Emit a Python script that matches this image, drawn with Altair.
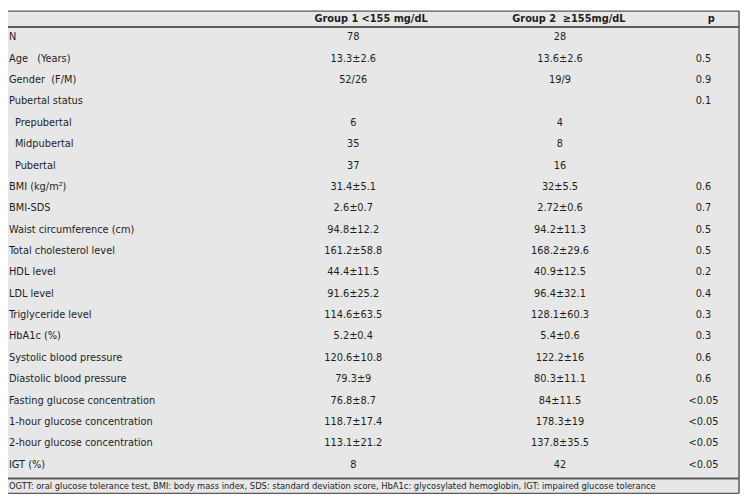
import altair as alt
import pandas as pd

NB = "\u00a0"
labels = [
    "N", "Age" + NB * 3 + "(Years)", "Gender" + NB + " (F/M)", "Pubertal status",
    "Prepubertal", "Midpubertal", "Pubertal",
    "BMI (kg/m\u00b2)", "BMI-SDS", "Waist circumference (cm)", "Total cholesterol level",
    "HDL level", "LDL level", "Triglyceride level", "HbA1c (%)",
    "Systolic blood pressure", "Diastolic blood pressure",
    "Fasting glucose concentration", "1-hour glucose concentration",
    "2-hour glucose concentration", "IGT (%)",
]
indent = [0, 0, 0, 0, 1, 1, 1, 0, 0, 0, 0, 0, 0, 0, 0, 0, 0, 0, 0, 0, 0]
group1 = [
    "78", "13.3\u00b12.6", "52/26", "", "6", "35", "37",
    "31.4\u00b15.1", "2.6\u00b10.7", "94.8\u00b112.2", "161.2\u00b158.8",
    "44.4\u00b111.5", "91.6\u00b125.2", "114.6\u00b163.5", "5.2\u00b10.4",
    "120.6\u00b110.8", "79.3\u00b19", "76.8\u00b18.7", "118.7\u00b117.4",
    "113.1\u00b121.2", "8",
]
group2 = [
    "28", "13.6\u00b12.6", "19/9", "", "4", "8", "16",
    "32\u00b15.5", "2.72\u00b10.6", "94.2\u00b111.3", "168.2\u00b129.6",
    "40.9\u00b112.5", "96.4\u00b132.1", "128.1\u00b160.3", "5.4\u00b10.6",
    "122.2\u00b116", "80.3\u00b111.1", "84\u00b111.5", "178.3\u00b119",
    "137.8\u00b135.5", "42",
]
pvals = [
    "", "0.5", "0.9", "0.1", "", "", "",
    "0.6", "0.7", "0.5", "0.5", "0.2", "0.4", "0.3", "0.3",
    "0.6", "0.6", "<0.05", "<0.05", "<0.05", "<0.05",
]
headers = ["Group 1 <155 mg/dL", "Group 2 " + NB + "\u2265155mg/dL", "p"]
footnote = ("OGTT: oral glucose tolerance test, BMI: body mass index, SDS: standard deviation score, "
            "HbA1c: glycosylated hemoglobin, IGT: impaired glucose tolerance")

FONT = "Liberation Sans Narrow, DejaVu Sans Condensed, sans-serif"
TXT = "#1e1e1e"
LINE = "#5a5a5a"
BG = "#e7e7e7"

df = pd.DataFrame({
    "row": list(range(len(labels))),
    "label": labels,
    "indent": indent,
    "g1": group1,
    "g2": group2,
    "p": pvals,
})

yenc = alt.Y("row:O", scale=alt.Scale(type="point", domain=list(range(len(labels))),
                                      range=[27, 459], padding=0), axis=None)

one = alt.Data(values=[{"k": 1}])

bg = alt.Chart(one).mark_rect(color=BG).encode(
    x=alt.value(0), x2=alt.value(739), y=alt.value(0), y2=alt.value(488))

def hrule(y, w):
    return alt.Chart(one).mark_rule(color=LINE, strokeWidth=w).encode(
        x=alt.value(0), x2=alt.value(739), y=alt.value(y))

rules = [hrule(0.5, 1.2), hrule(16.5, 2), hrule(473, 2), hrule(488, 1.5)]
vrule = alt.Chart(one).mark_rule(color=LINE, strokeWidth=1.5).encode(
    x=alt.value(739), y=alt.value(0), y2=alt.value(488))

FS = 11
base = alt.Chart(df)
tprops = dict(font=FONT, fontSize=FS, color=TXT, baseline="middle")

lab_main = base.transform_filter("datum.indent == 0").mark_text(align="left", **tprops).encode(
    x=alt.value(1), y=yenc, text="label:N")
lab_ind = base.transform_filter("datum.indent == 1").mark_text(align="left", **tprops).encode(
    x=alt.value(7), y=yenc, text="label:N")
c1 = base.mark_text(align="center", **tprops).encode(x=alt.value(349), y=yenc, text="g1:N")
c2 = base.mark_text(align="center", **tprops).encode(x=alt.value(558), y=yenc, text="g2:N")
c3 = base.mark_text(align="center", **tprops).encode(x=alt.value(703), y=yenc, text="p:N")

hdr = alt.Data(values=[{"h": h, "col": i} for i, h in enumerate(headers)])
hdr_layers = []
for i, xpos in enumerate([367, 567, 711]):
    hdr_layers.append(
        alt.Chart(hdr).transform_filter(f"datum.col == {i}").mark_text(
            align="center", fontWeight="bold", **tprops).encode(
            x=alt.value(xpos), y=alt.value(8.5), text="h:N"))

foot = alt.Chart(alt.Data(values=[{"t": footnote}])).mark_text(
    align="left", font=FONT, fontSize=9.4, color=TXT, baseline="middle").encode(
    x=alt.value(1), y=alt.value(480.5), text="t:N")

chart = alt.layer(bg, *rules, vrule, lab_main, lab_ind, c1, c2, c3, *hdr_layers, foot).properties(
    width=742, height=489, background="white", padding=0,
    autosize=alt.AutoSizeParams(type="none"),
).configure_view(stroke=None)

chart.save("out.html", embed_options={"renderer": "svg", "actions": False})
